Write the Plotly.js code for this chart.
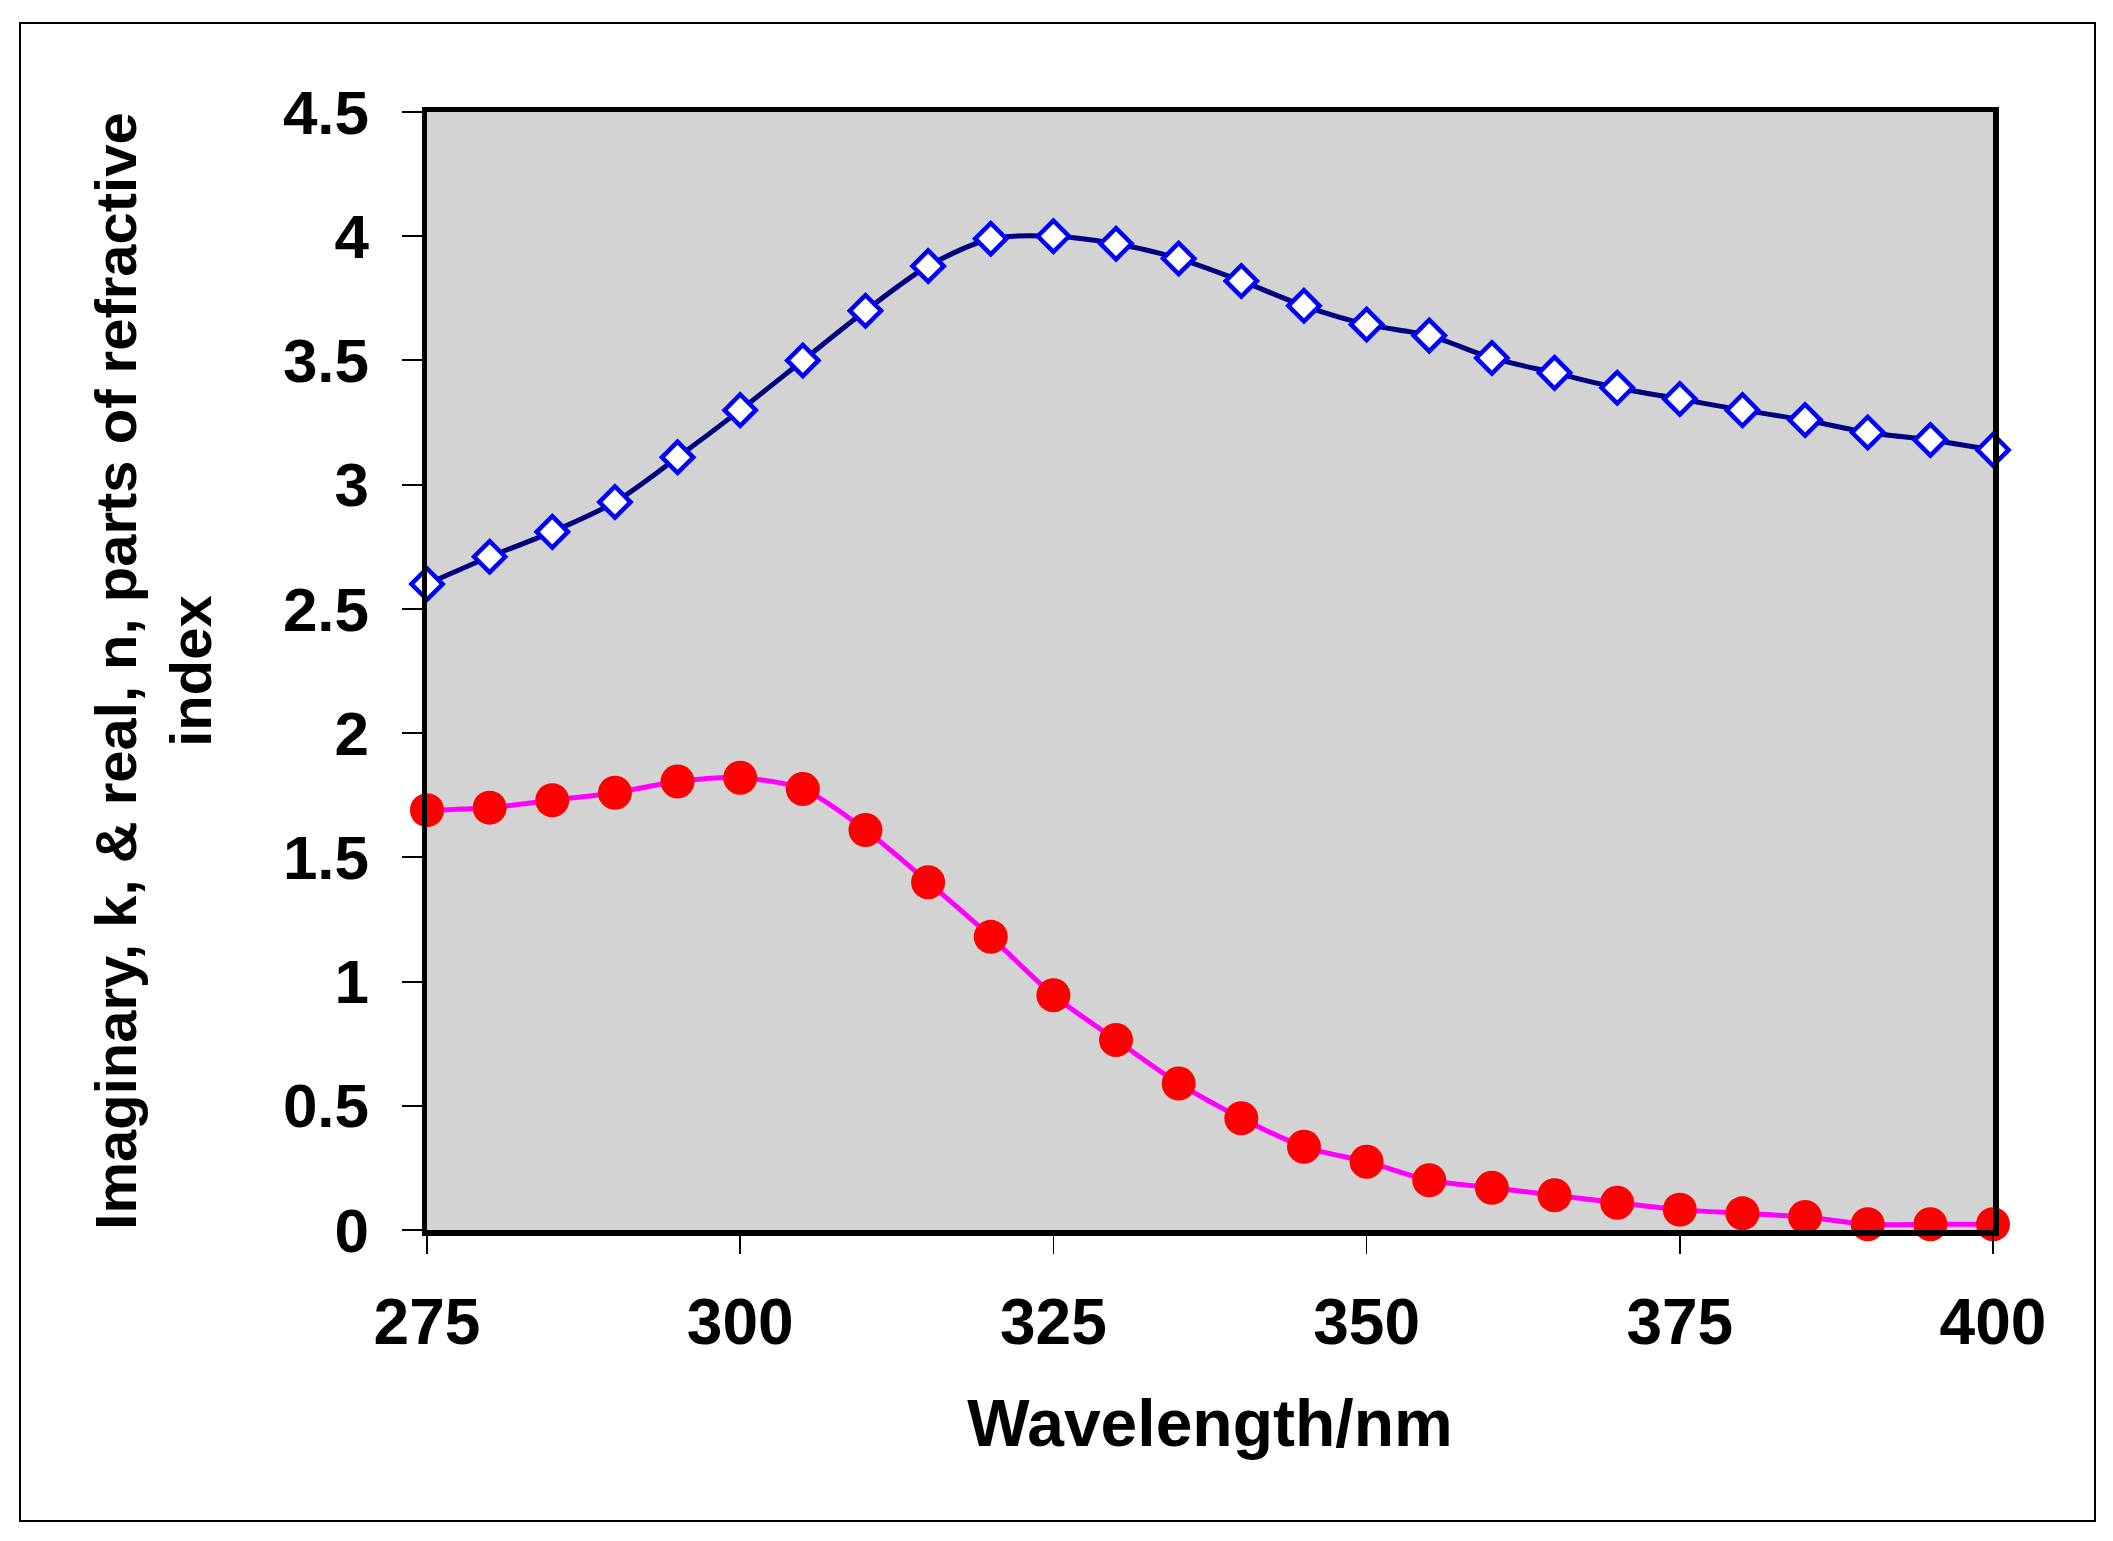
<!DOCTYPE html>
<html>
<head>
<meta charset="utf-8">
<script src="https://cdn.plot.ly/plotly-3.0.1.min.js"></script>
<style>
  html, body { margin: 0; padding: 0; background: #ffffff; }
  #chart { width: 2113px; height: 1541px; }
</style>
</head>
<body>
<div id="chart"></div>
<script>
// Wavelength (nm)
const wavelength = [275, 280, 285, 290, 295, 300, 305, 310, 315, 320, 325, 330, 335,
                    340, 345, 350, 355, 360, 365, 370, 375, 380, 385, 390, 395, 400];
// Real part n of refractive index (open blue diamonds)
const nReal = [2.60, 2.71, 2.81, 2.93, 3.11, 3.30, 3.50, 3.70, 3.88, 3.99, 4.00, 3.97, 3.91,
               3.82, 3.72, 3.645, 3.60, 3.51, 3.45, 3.39, 3.345, 3.30, 3.26, 3.21, 3.18, 3.14];
// Imaginary part k of refractive index (red dots)
const kImag = [1.69, 1.70, 1.73, 1.76, 1.805, 1.82, 1.775, 1.61, 1.40, 1.18, 0.945, 0.765, 0.59,
               0.45, 0.335, 0.275, 0.20, 0.17, 0.14, 0.11, 0.082, 0.067, 0.052, 0.023, 0.023, 0.023];
// Axis ticks
const xTickVals = [275, 300, 325, 350, 375, 400];
const yTickVals = [0, 0.5, 1, 1.5, 2, 2.5, 3, 3.5, 4, 4.5];
const xTitle = 'Wavelength/nm';
const yTitle = 'Imaginary, k, & real, n, parts of refractive<br>index';

const FONT = 'Arial, "Liberation Sans", sans-serif';

const traces = [
  {
    x: wavelength, y: nReal, type: 'scatter', mode: 'lines+markers', name: 'n',
    line: { color: '#000080', width: 5, shape: 'spline', smoothing: 0.8 },
    marker: { symbol: 'diamond', size: 24, color: '#ffffff', line: { color: '#0000ff', width: 4.5 } },
    cliponaxis: false
  },
  {
    x: wavelength, y: kImag, type: 'scatter', mode: 'lines+markers', name: 'k',
    line: { color: '#ff00ff', width: 5, shape: 'spline', smoothing: 0.8 },
    marker: { symbol: 'circle', size: 34, color: '#ff0000', line: { width: 0 } },
    cliponaxis: false
  }
];

const L = 427, R = 1993, T = 112, B = 1230, W = 2113, H = 1541;
const pw = R - L, ph = B - T;
const px = v => (v - L) / pw;
const py = v => (B - v) / ph;

const layout = {
  width: W, height: H,
  margin: { l: L, r: W - R, t: T, b: H - B, pad: 0 },
  paper_bgcolor: '#ffffff',
  plot_bgcolor: '#d3d3d3',
  showlegend: false,
  font: { family: FONT, color: '#000000' },
  xaxis: {
    range: [275, 400], tickvals: xTickVals, ticktext: xTickVals.map(String),
    ticks: 'outside', ticklen: 18, tickwidth: 1.5, tickcolor: '#000000',
    showline: true, linecolor: '#000000', linewidth: 5.5, mirror: true,
    showgrid: false, zeroline: false,
    tickfont: { family: FONT, size: 64, weight: 'bold', color: '#000000' },
    ticklabelstandoff: 14,
    title: { text: xTitle, font: { family: FONT, size: 66, weight: 'bold', color: '#000000' }, standoff: 44 },
    automargin: false
  },
  yaxis: {
    range: [0, 4.5], tickvals: yTickVals,
    ticks: 'outside', ticklen: 20, tickwidth: 2, tickcolor: '#000000',
    showline: true, linecolor: '#000000', linewidth: 5.5, mirror: true,
    showgrid: false, zeroline: false,
    tickfont: { family: FONT, size: 62, weight: 'bold', color: '#000000' },
    ticklabelstandoff: 20,
    title: { text: yTitle, font: { family: FONT, size: 58, weight: 'bold', color: '#000000' }, standoff: 54 },
    automargin: false
  },
  shapes: [
    { type: 'rect', xref: 'paper', yref: 'paper', layer: 'below',
      x0: px(20), x1: px(2095), y0: py(1521), y1: py(23),
      line: { color: '#000000', width: 2 }, fillcolor: 'rgba(0,0,0,0)' }
  ]
};

Plotly.newPlot('chart', traces, layout, { displayModeBar: false, staticPlot: true });
</script>
</body>
</html>
